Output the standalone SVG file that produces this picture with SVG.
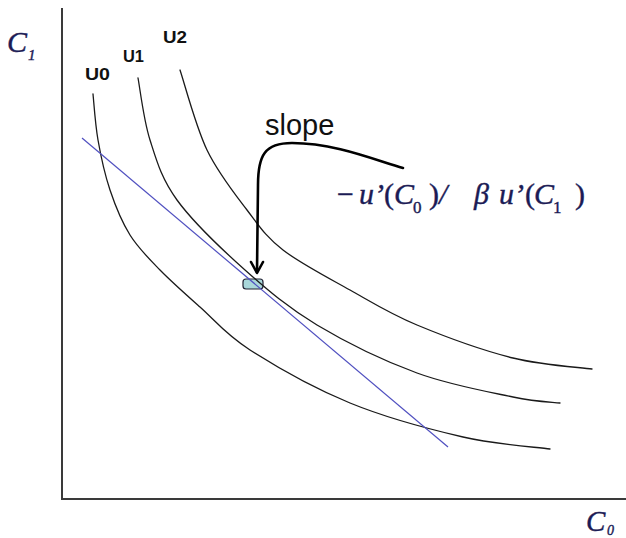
<svg xmlns="http://www.w3.org/2000/svg" width="626" height="538" viewBox="0 0 626 538">
  <style>
    .axis { stroke: #3a3a3a; stroke-width: 2; fill: none; }
    .curve { stroke: #1a1a1a; stroke-width: 1.3; fill: none; stroke-linejoin: round; stroke-linecap: round; }
    .budget { stroke: #5050c0; stroke-width: 1.2; fill: none; }
    .arrow { stroke: #000; stroke-width: 2.6; fill: none; stroke-linecap: round; stroke-linejoin: round; }
    .ulab { font-family: "Liberation Sans", Arial, sans-serif; font-weight: bold; font-size: 16px; fill: #111; }
    .math { font-family: "Liberation Serif", "Times New Roman", serif; font-style: italic; fill: #1b1b55; stroke: #1b1b55; stroke-width: 0.4; }
    .slope { font-family: "Liberation Sans", Arial, sans-serif; font-size: 29px; fill: #111; }
  </style>

  <g id="axes">
    <line class="axis" x1="62" y1="8" x2="62" y2="499"/>
    <line class="axis" x1="61" y1="499" x2="626" y2="499"/>
  </g>

  <g id="axis-label-c1">
    <text class="math" x="7" y="52" font-size="30">C</text>
    <text class="math" x="28" y="60" font-size="15" font-style="normal">1</text>
  </g>
  <g id="axis-label-c0">
    <text class="math" x="586" y="531" font-size="29">C</text>
    <text class="math" x="607" y="535" font-size="14" font-style="normal">0</text>
  </g>

  <g id="tangent-point">
    <rect x="243" y="279" width="20" height="10" rx="3" fill="#a9d7da" stroke="#223" stroke-width="1.2"/>
  </g>

  <g id="connectors">
    <path id="curve-u0" class="curve" d="M93,94 C93.8,101.7 95.2,124 98,140 C100.8,156 104.7,174.2 110,190 C115.3,205.8 121.7,221.7 130,235 C138.3,248.3 148.3,258 160,270 C171.7,282 185,293.7 200,307 C215,320.3 225,334 250,350 C275,366 314.5,388.5 350,403 C385.5,417.5 429.7,429.3 463,437 C496.3,444.7 535.5,447 550,449"/>
    <path id="curve-u1" class="curve" d="M138,78 C140,88.3 143.5,119.7 150,140 C156.5,160.3 161.2,178.3 177,200 C192.8,221.7 221.7,249.2 245,270 C268.3,290.8 288.3,307.8 317,325 C345.7,342.2 384.3,361 417,373 C449.7,385 489.2,392 513,397 C536.8,402 552.2,402 560,403"/>
    <path id="curve-u2" class="curve" d="M180,70 C184.5,83.3 195.8,126.7 207,150 C218.2,173.3 234.3,193.3 247,210 C259.7,226.7 265.8,236.7 283,250 C300.2,263.3 327.7,277.5 350,290 C372.3,302.5 389.8,313.7 417,325 C444.2,336.3 483.8,350.7 513,358 C542.2,365.3 578.8,367.2 592,369"/>
    <line id="budget-line" class="budget" x1="82" y1="138" x2="448" y2="447"/>
    <path id="slope-arrow" class="arrow" d="M403,168 C375,160 335,143 292,143 C265,143 258,155 258,185 L257,272"/>
    <path class="arrow" d="M251,262 L257,273 L263,262"/>
  </g>

  <g id="label-u0"><text class="ulab" x="85" y="80" textLength="25" lengthAdjust="spacingAndGlyphs">U0</text></g>
  <g id="label-u1"><text class="ulab" x="123" y="62" textLength="21" lengthAdjust="spacingAndGlyphs">U1</text></g>
  <g id="label-u2"><text class="ulab" x="163" y="43" textLength="24" lengthAdjust="spacingAndGlyphs">U2</text></g>

  <g id="label-slope"><text class="slope" x="265" y="135">slope</text></g>

  <g id="slope-formula">
    <text class="math" font-size="30" y="204">
      <tspan x="337" font-style="normal">−</tspan>
      <tspan x="359">u’</tspan>
      <tspan x="384" font-style="normal">(</tspan>
      <tspan x="394">C</tspan>
      <tspan x="413" y="213" font-size="17" font-style="normal">0</tspan>
      <tspan x="429" y="204" font-style="normal">)</tspan>
      <tspan x="439">/</tspan>
      <tspan x="474">β</tspan>
      <tspan x="499">u’</tspan>
      <tspan x="525" font-style="normal">(</tspan>
      <tspan x="534">C</tspan>
      <tspan x="553" y="213" font-size="17" font-style="normal">1</tspan>
      <tspan x="575" y="204" font-style="normal">)</tspan>
    </text>
  </g>
</svg>
